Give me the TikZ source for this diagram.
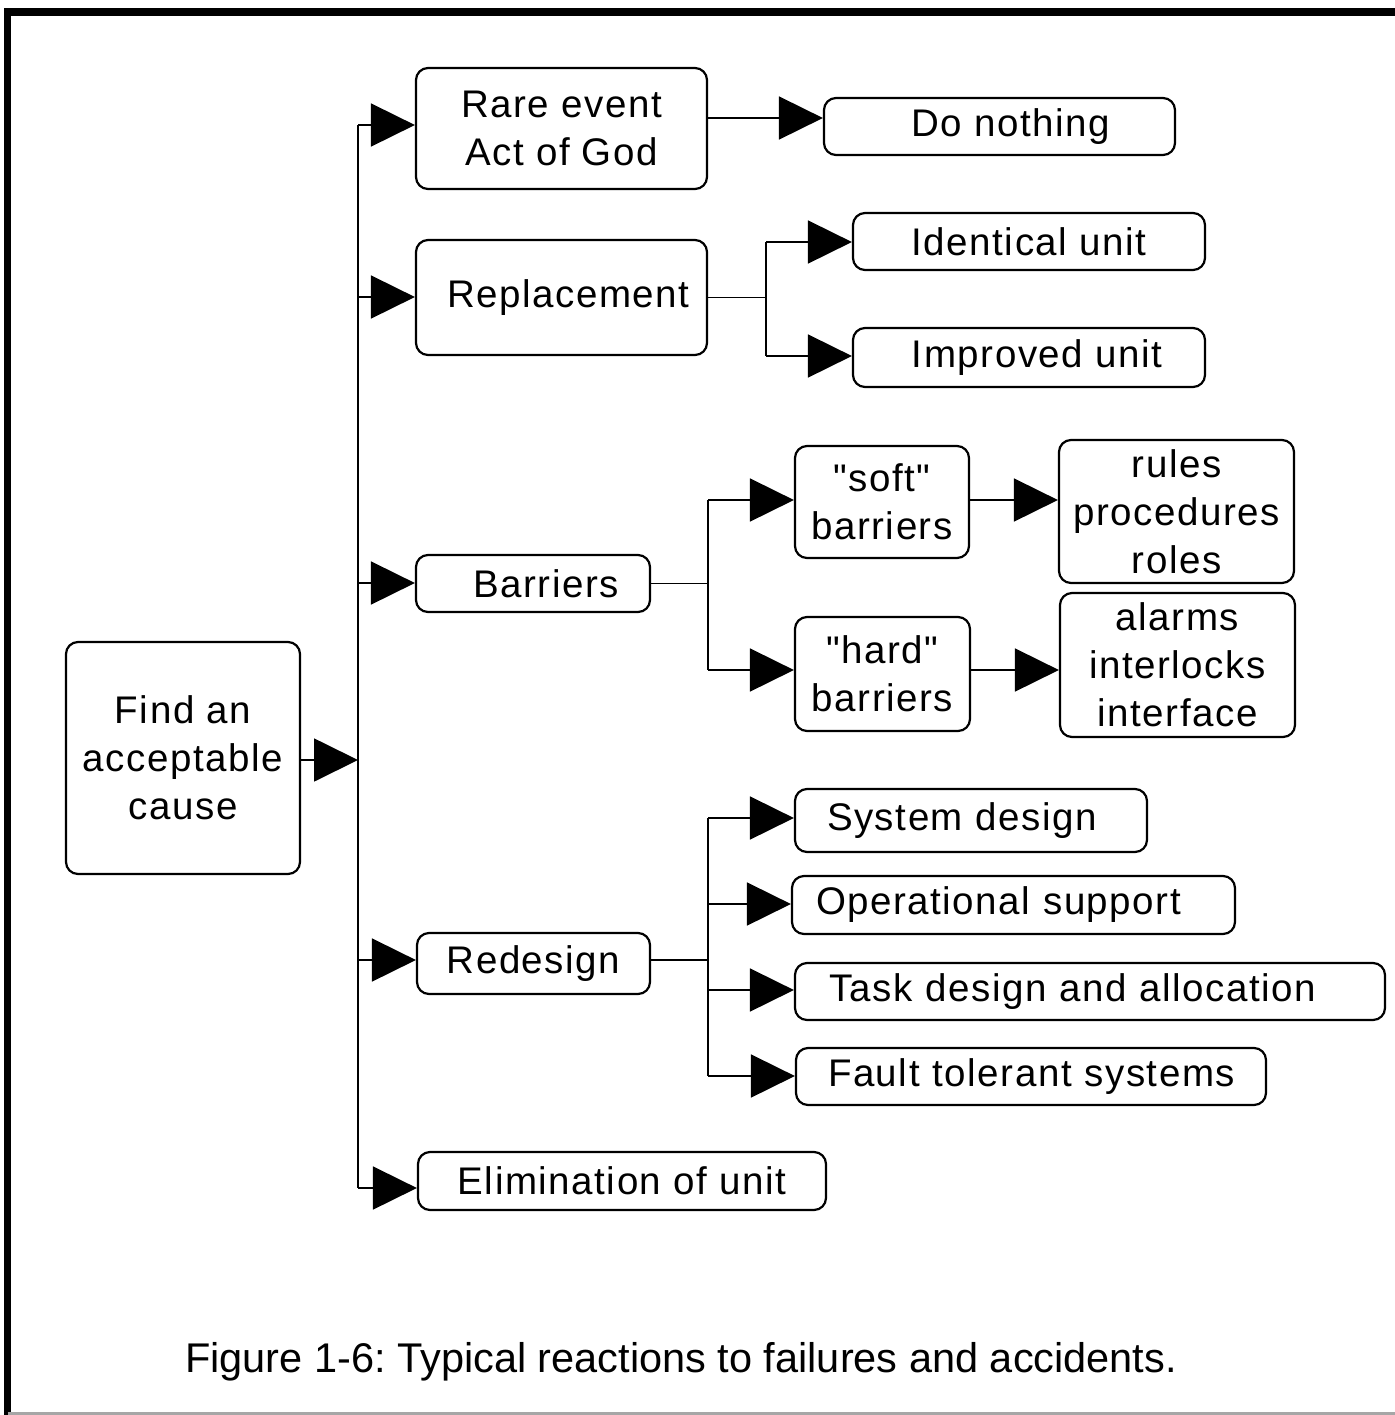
\documentclass[tikz,border=0pt]{standalone}
\usepackage{fontspec}
\setmainfont{Liberation Sans}[Ligatures=TeXOff]
\usetikzlibrary{arrows.meta}
\frenchspacing
\newcommand\myboxfont{\fontsize{19.25}{24}\selectfont\addfontfeature{LetterSpace=4}}
\newcommand\mycapfont{\fontsize{20.75}{25}\selectfont}
\begin{document}
\begin{tikzpicture}[x=0.5pt,y=-0.5pt,
  box/.style={draw, line width=1.1pt, rounded corners=6pt, align=center, inner sep=0pt, font=\myboxfont},
  sz/.style 2 args={minimum width=#1*0.5pt, minimum height=#2*0.5pt},
  lbox/.style n args={3}{box, align=left, inner xsep=#2*0.5pt, text width=(#1-2*#2)*0.5pt, minimum height=#3*0.5pt},
  arr/.style={line width=0.9pt, -{Triangle[length=22pt,width=21.5pt]}},
  conn/.style={line width=0.9pt},
  frame/.style={line width=3.6pt, line cap=rect},
]
\useasboundingbox (0,0) rectangle (1395,1415);
\fill[white] (0,0) rectangle (1395,1415);
% frame
\draw[frame] (7.5,1415) -- (7.5,12) -- (1395,12);
\draw[gray!70, line width=1.5pt] (7.5,1413) -- (1395,1413);

% nodes
\node[box, sz={234}{232}] (find) at (183,758) {Find an\\acceptable\\cause};
\node[box, sz={291}{121}] (rare) at (561.5,128.5) {Rare event\\Act of God};
\node[box, sz={291}{115}] (repl) at (561.5,297.5) {\hspace*{7pt}Replacement};
\node[box, sz={234}{57}] (barr) at (533,583.5) {\hspace*{13pt}Barriers};
\node[box, sz={233}{61}] (redes) at (533.5,963.5) {Redesign};
\node[box, sz={408}{58}] (elim) at (622,1181) {Elimination of unit};
\node[box, sz={351}{57}] (dono) at (999.5,126.5) {\hspace*{11pt}Do nothing};
\node[box, sz={352}{57}] (ident) at (1029,241.5) {Identical unit};
\node[box, sz={352}{59}] (impr) at (1029,357.5) {\hspace*{8pt}Improved unit};
\node[box, sz={174}{112}] (soft) at (882,502) {"soft"\\barriers};
\node[box, sz={175}{114}] (hard) at (882.5,674) {"hard"\\barriers};
\node[box, sz={235}{143}] (rules) at (1176.5,511.5) {rules\\procedures\\roles};
\node[box, sz={235}{144}] (alarms) at (1177.5,665) {alarms\\interlocks\\interface};
\node[lbox={352}{32}{63}] (sysd) at (971,820.5) {System design};
\node[lbox={443}{24}{58}] (opsup) at (1013.5,905) {Operational support};
\node[lbox={590}{34}{57}] (task) at (1090,991.5) {Task design and allocation};
\node[lbox={470}{32}{57}] (fault) at (1031,1076.5) {Fault tolerant systems};

\node[anchor=base, inner sep=0pt, font=\mycapfont] (cap) at (681,1372) {Figure 1-6: Typical reactions to failures and accidents.};

% main bus
\coordinate (bus) at (358,760);
\coordinate (b1) at (358,125);
\coordinate (b2) at (358,297);
\coordinate (b3) at (358,583);
\coordinate (b4) at (358,960);
\coordinate (b5) at (358,1188);
\draw[arr] (find.east |- bus) -- (bus);
\draw[conn] (b1) -- (b5);
\draw[arr] (b1) -- (rare.west |- b1);
\draw[arr] (b2) -- (repl.west |- b2);
\draw[arr] (b3) -- (barr.west |- b3);
\draw[arr] (b4) -- (redes.west |- b4);
\draw[arr] (b5) -- (elim.west |- b5);

% rare event -> do nothing
\coordinate (d0) at (707,118);
\draw[arr] (rare.east |- d0) -- (dono.west |- d0);

% replacement
\coordinate (r0) at (766,297.5);
\coordinate (r1) at (766,242);
\coordinate (r2) at (766,356);
\draw[conn] (repl.east |- r0) -- (r0);
\draw[conn] (r1) -- (r2);
\draw[arr] (r1) -- (ident.west |- r1);
\draw[arr] (r2) -- (impr.west |- r2);

% barriers
\coordinate (s0) at (708,583.5);
\coordinate (s1) at (708,500);
\coordinate (s2) at (708,670);
\draw[conn] (barr.east |- s0) -- (s0);
\draw[conn] (s1) -- (s2);
\draw[arr] (s1) -- (soft.west |- s1);
\draw[arr] (s2) -- (hard.west |- s2);
\draw[arr] (soft.east |- s1) -- (rules.west |- s1);
\draw[arr] (hard.east |- s2) -- (alarms.west |- s2);

% redesign
\coordinate (t0) at (708,960);
\coordinate (t1) at (708,818);
\coordinate (t2) at (708,904);
\coordinate (t3) at (708,990);
\coordinate (t4) at (708,1076);
\draw[conn] (redes.east |- t0) -- (t0);
\draw[conn] (t1) -- (t4);
\draw[arr] (t1) -- (sysd.west |- t1);
\draw[arr] (t2) -- (opsup.west |- t2);
\draw[arr] (t3) -- (task.west |- t3);
\draw[arr] (t4) -- (fault.west |- t4);
\end{tikzpicture}
\end{document}
